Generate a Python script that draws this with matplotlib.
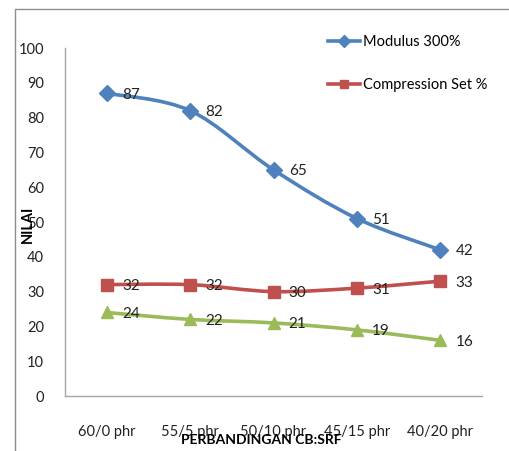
import matplotlib.pyplot as plt
import numpy as np
from matplotlib.path import Path
from matplotlib.patches import PathPatch, Rectangle
from matplotlib.lines import Line2D

plt.rcParams['font.family'] = ['Lato', 'DejaVu Sans']

# data
categories = ["60/0 phr", "55/5 phr", "50/10 phr", "45/15 phr", "40/20 phr"]
modulus = [87, 82, 65, 51, 42]
compression = [32, 32, 30, 31, 33]
third = [24, 22, 21, 19, 16]

series_names = ["Modulus 300%", "Compression Set %", None]
colors = ["#4F81BD", "#C0504D", "#9BBB59"]
markers = ["D", "s", "^"]
msizes = [8, 8, 8.5]


def smooth_path(xs, ys):
    # excel-like smoothed line: cubic bezier through the points
    pts = np.column_stack([xs, ys]).astype(float)
    padded = np.vstack([pts[0], pts, pts[-1]])
    verts = [pts[0]]
    codes = [Path.MOVETO]
    for i in range(len(pts) - 1):
        p0, p1, p2, p3 = padded[i], padded[i + 1], padded[i + 2], padded[i + 3]
        c1 = p1 + (p2 - p0) / 6.0
        c2 = p2 - (p3 - p1) / 6.0
        verts += [c1, c2, p2]
        codes += [Path.CURVE4] * 3
    return Path(verts, codes)


fig = plt.figure(figsize=(5.1, 4.51), dpi=100)
ax = fig.add_axes([65 / 510, 55 / 451, 417 / 510, 348 / 451])

# outer chart frame (right and bottom edges fall outside the picture)
top = 1 - 9 / 451
fig.add_artist(Rectangle((15 / 510, -0.1), 1.2, top + 0.1,
                         transform=fig.transFigure, fill=False,
                         edgecolor="#8c8c8c", lw=1.0, zorder=0))

x = np.arange(len(categories))
for vals, c, m, ms in zip([modulus, compression, third], colors, markers, msizes):
    ax.add_patch(PathPatch(smooth_path(x, vals), fill=False, edgecolor=c,
                           lw=2.6, capstyle="round", zorder=2))
    ax.plot(x, vals, ls="none", marker=m, ms=ms, color=c, zorder=3)
    for xi, v in zip(x, vals):
        ax.annotate(str(v), (xi, v), xytext=(11, -1), textcoords="offset points",
                    ha="left", va="center", fontsize=11, color="#222222")

ax.set_xlim(-0.5, len(categories) - 0.5)
ax.set_ylim(0, 100)
ax.set_yticks(range(0, 101, 10))
ax.set_xticks(x)
ax.set_xticklabels(categories)
ax.tick_params(axis="both", length=0, labelsize=10.5, colors="#222222")
ax.tick_params(axis="y", pad=15)
ax.tick_params(axis="x", pad=21)

for s in ["top", "right"]:
    ax.spines[s].set_visible(False)
for s in ["left", "bottom"]:
    ax.spines[s].set_color("#a6a6a6")
    ax.spines[s].set_linewidth(1.0)

fig.text(28 / 510, 1 - 224 / 451, "NILAI", rotation=90, ha="center", va="center",
         fontsize=10.5, fontweight="bold")
fig.text(261 / 510, 1 - 440 / 451, "PERBANDINGAN CB:SRF", ha="center", va="center",
         fontsize=10, fontweight="bold")

handles = [Line2D([], [], color=c, marker=m, ms=6, lw=2.6)
           for c, m in zip(colors[:2], markers[:2])]
fig.legend(handles, series_names[:2], loc="upper left",
           bbox_to_anchor=(322 / 510, 1 - 29 / 451), frameon=False,
           fontsize=10.5, handlelength=2.2, handletextpad=0.2, labelspacing=2.0,
           borderaxespad=0)

fig.savefig("out.png", dpi=100)
